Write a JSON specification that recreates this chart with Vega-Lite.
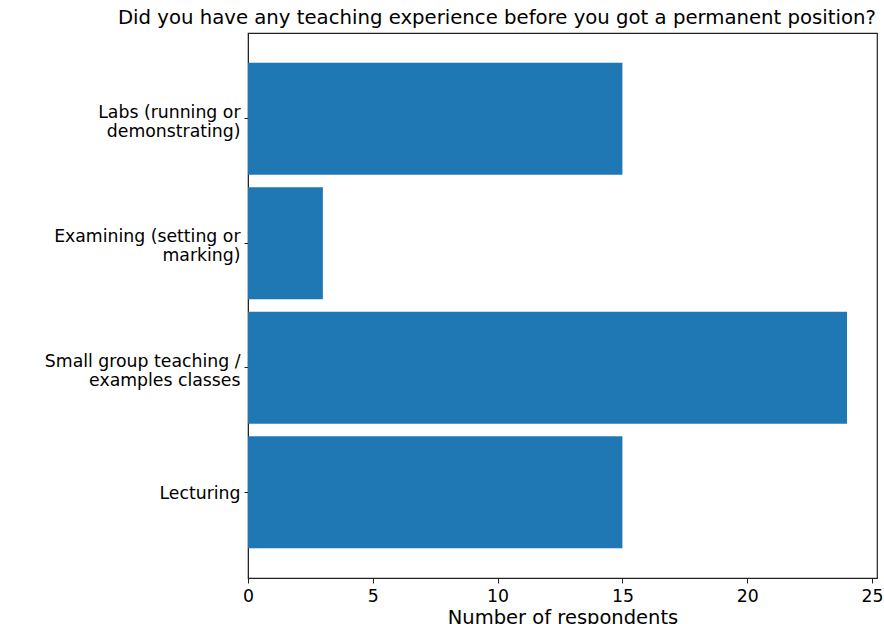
{
  "$schema": "https://vega.github.io/schema/vega-lite/v6.json",
  "autosize": "none",
  "width": 629,
  "height": 545,
  "padding": {"left": 248, "top": 33, "right": 7, "bottom": 46},
  "background": "white",
  "title": {
    "text": "Did you have any teaching experience before you got a permanent position?",
    "anchor": "end",
    "frame": "group",
    "dx": -1,
    "offset": 5,
    "fontSize": 19.7,
    "fontWeight": "normal",
    "font": "DejaVu Sans",
    "color": "black"
  },
  "data": {
    "values": [
      {"activity": "Labs (running or\ndemonstrating)", "respondents": 15},
      {"activity": "Examining (setting or\nmarking)", "respondents": 3},
      {"activity": "Small group teaching /\nexamples classes", "respondents": 24},
      {"activity": "Lecturing", "respondents": 15}
    ]
  },
  "mark": {"type": "bar", "color": "#1f77b4"},
  "encoding": {
    "y": {
      "field": "activity",
      "type": "nominal",
      "sort": null,
      "scale": {"paddingInner": 0.1, "paddingOuter": 0.24},
      "axis": {
        "title": null,
        "labelExpr": "split(datum.value, '\\n')",
        "labelFontSize": 17.3,
        "labelLineHeight": 19,
        "labelPadding": 4,
        "labelOffset": {"condition": {"test": "indexof(datum.value, '\\n') >= 0", "value": -6}, "value": 2},
        "tickSize": 4,
        "labelLimit": 300
      }
    },
    "x": {
      "field": "respondents",
      "type": "quantitative",
      "scale": {"domain": [0, 25.2], "nice": false, "zero": true},
      "axis": {
        "title": "Number of respondents",
        "values": [0, 5, 10, 15, 20, 25],
        "labelFontSize": 17.3,
        "titleFontSize": 19.5,
        "titleFontWeight": "normal",
        "tickSize": 5,
        "labelPadding": 4,
        "titlePadding": 4,
        "labelFlush": false,
        "labelOverlap": false
      }
    }
  },
  "config": {
    "font": "DejaVu Sans",
    "view": {"stroke": "#222", "strokeWidth": 1.2},
    "axis": {
      "grid": false,
      "domainColor": "#222",
      "tickColor": "#222",
      "labelColor": "black",
      "titleColor": "black",
      "labelFont": "DejaVu Sans",
      "titleFont": "DejaVu Sans"
    }
  }
}
